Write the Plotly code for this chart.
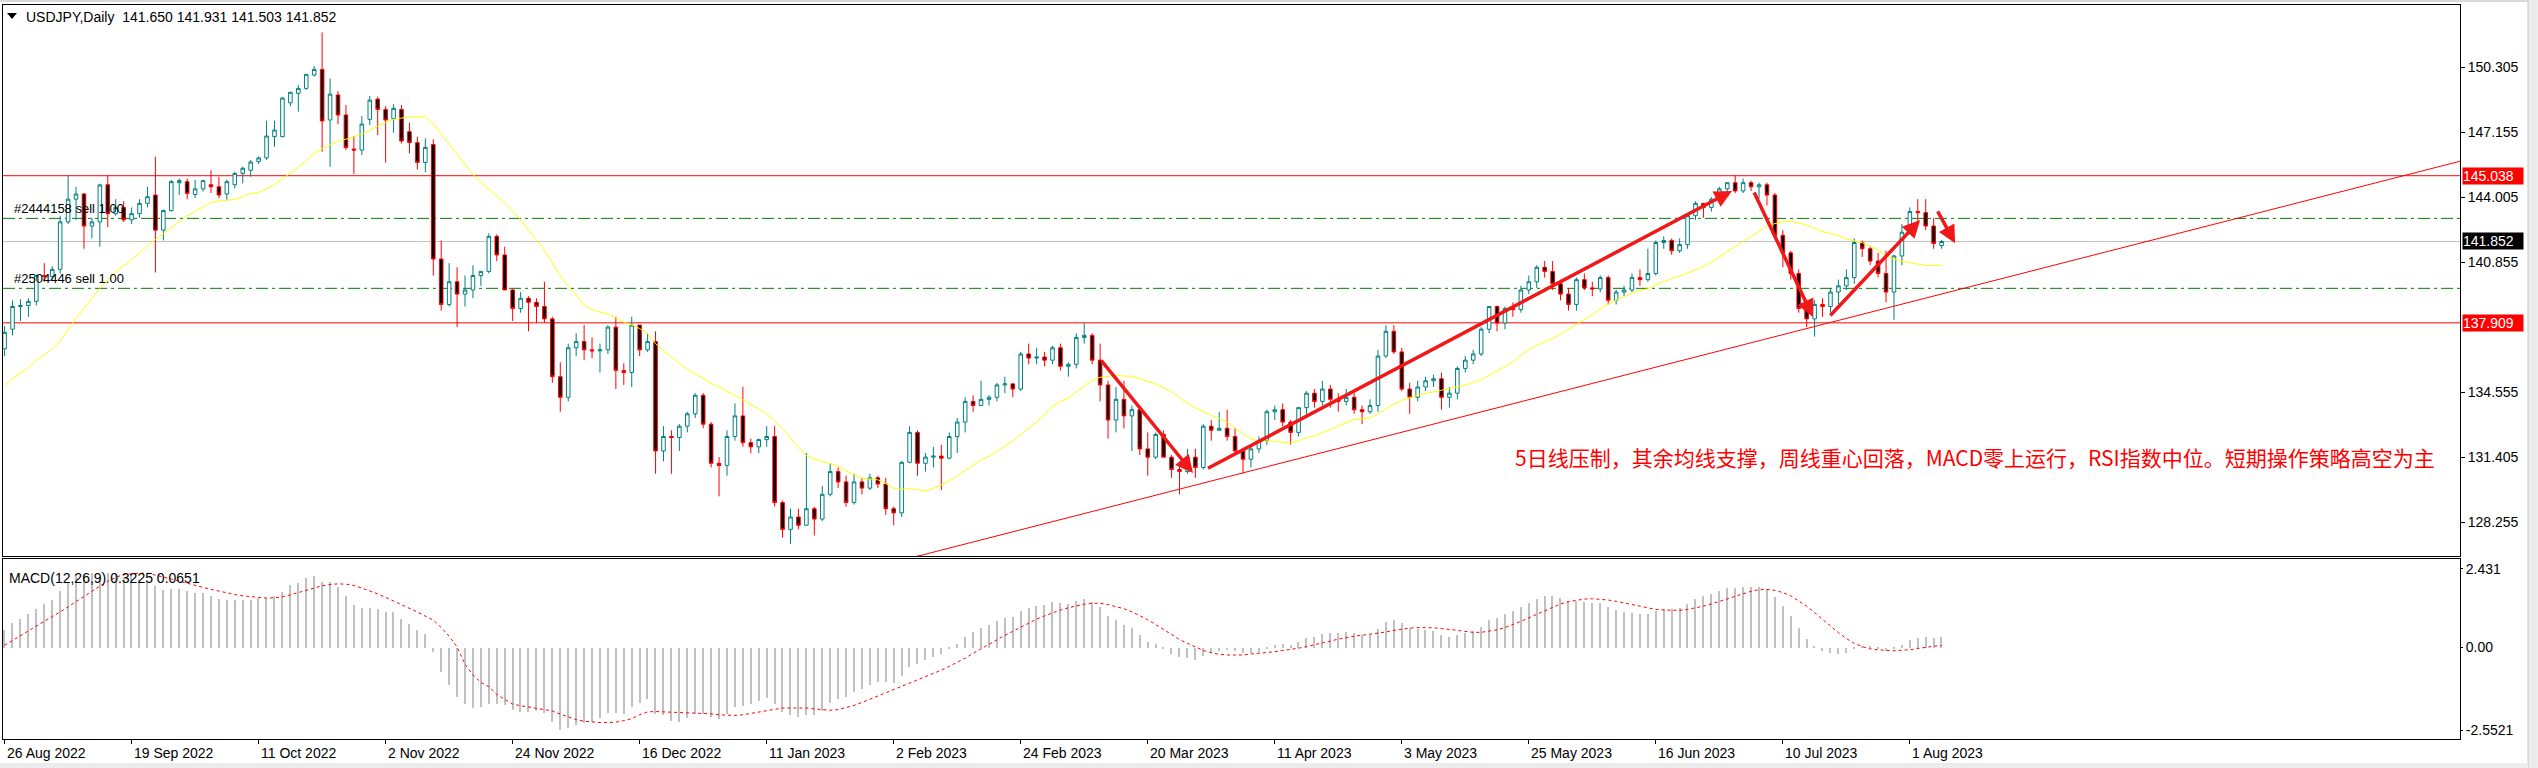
import plotly.graph_objects as go

# ---------------- data ----------------
tick_labels = ["26 Aug 2022", "19 Sep 2022", "11 Oct 2022", "2 Nov 2022", "24 Nov 2022",
               "16 Dec 2022", "11 Jan 2023", "2 Feb 2023", "24 Feb 2023", "20 Mar 2023",
               "11 Apr 2023", "3 May 2023", "25 May 2023", "16 Jun 2023", "10 Jul 2023",
               "1 Aug 2023"]
bars_per_label = 16

opens = [
    136.65, 137.60, 138.70, 138.75, 138.95, 140.20, 140.15, 140.50, 142.80, 143.90,
    144.15, 142.60, 142.80, 144.60, 143.20, 143.50, 142.90, 143.20, 143.70, 144.10,
    142.40, 143.35, 144.70, 144.75, 144.13, 144.40, 144.60, 144.50, 144.15, 144.60,
    145.15, 145.30, 145.72, 145.90, 146.93, 146.93, 148.57, 149.03, 149.27, 149.92,
    150.19, 147.74, 148.95, 147.98, 146.33, 146.28, 147.77, 148.75, 148.25, 147.80,
    148.25, 147.17, 146.64, 145.68, 146.55, 141.00, 138.80, 139.90, 139.30, 139.50,
    140.20, 140.40, 142.10, 141.20, 139.50, 138.60, 139.10, 138.90, 138.70, 138.10,
    135.30, 134.30, 136.70, 137.00, 136.60, 136.55, 136.60, 137.70, 135.60, 135.50,
    137.80, 136.60, 137.00, 131.70, 132.40, 132.35, 132.90, 133.50, 134.40, 133.00,
    131.10, 131.00, 132.40, 133.40, 132.10, 131.90, 132.25, 132.40, 129.20, 127.90,
    128.50, 128.10, 128.90, 128.40, 129.60, 130.70, 130.20, 129.20, 130.20, 129.90,
    130.40, 130.10, 128.90, 128.70, 131.15, 132.60, 131.10, 131.40, 131.45, 131.35,
    132.40, 133.10, 134.10, 133.90, 134.20, 134.30, 134.90, 134.95, 134.70, 136.40,
    136.20, 136.25, 136.10, 136.70, 135.80, 135.90, 137.20, 137.30, 136.10, 134.90,
    133.20, 134.20, 133.40, 133.70, 131.80, 131.40, 132.50, 131.40, 130.80, 130.70,
    131.40, 130.90, 132.90, 132.70, 132.80, 132.40, 131.70, 131.30, 131.80, 132.20,
    133.60, 133.70, 133.10, 132.60, 133.80, 134.50, 134.10, 134.70, 134.20, 134.10,
    134.30, 133.70, 133.60, 133.90, 136.30, 137.50, 136.50, 134.70, 134.30, 134.80,
    135.10, 135.20, 134.30, 134.50, 135.70, 136.10, 136.40, 137.60, 138.70, 137.90,
    138.60, 138.55, 139.50, 139.90, 140.60, 140.40, 139.80, 139.30, 138.80, 140.00,
    139.60, 139.55, 140.10, 139.00, 139.40, 139.50, 140.10, 140.00, 140.30, 141.80,
    141.90, 141.40, 141.70, 143.10, 143.70, 143.50, 143.90, 144.40, 144.70, 144.30,
    144.70, 144.50, 144.60, 144.10, 142.15, 141.30, 140.30, 138.60, 138.10, 138.80,
    138.70, 139.40, 139.70, 140.10, 141.80, 141.50, 140.90, 140.30, 139.40, 141.15,
    142.30, 143.30, 143.25, 142.60, 141.65,
]
highs = [
    137.75, 139.00, 139.05, 139.10, 140.25, 140.80, 140.65, 143.10, 145.07, 144.50,
    144.20, 143.00, 144.65, 145.07, 143.90, 143.80, 143.50, 143.90, 144.50, 145.96,
    143.40, 144.83, 144.90, 144.90, 144.83, 144.83, 145.30, 144.99, 144.86, 145.23,
    145.47, 145.80, 145.97, 147.70, 147.70, 148.86, 149.10, 149.43, 149.96, 150.35,
    151.98, 149.75, 149.14, 148.46, 146.96, 147.93, 148.90, 148.87, 148.41, 148.50,
    148.46, 147.60, 146.93, 146.85, 146.80, 141.90, 140.80, 140.60, 140.20, 140.70,
    140.40, 142.25, 142.20, 141.60, 139.55, 139.40, 139.20, 139.10, 139.90, 138.20,
    136.00, 136.90, 137.40, 137.80, 137.20, 136.90, 137.80, 138.20, 135.95, 138.20,
    137.80, 137.40, 137.50, 132.90, 132.70, 133.00, 133.60, 134.50, 134.50, 133.10,
    131.40, 132.70, 134.00, 134.80, 132.30, 132.30, 132.90, 132.90, 129.30, 128.90,
    128.90, 131.60, 129.00, 130.00, 131.10, 130.90, 130.50, 130.60, 130.40, 130.60,
    130.50, 130.40, 129.00, 131.20, 132.90, 132.70, 131.60, 131.90, 132.00, 132.60,
    133.30, 134.30, 134.40, 135.10, 134.40, 135.00, 135.30, 135.00, 136.50, 136.90,
    136.70, 136.50, 136.80, 136.90, 136.00, 137.40, 137.90, 137.40, 136.90, 135.10,
    134.80, 135.10, 133.90, 133.80, 132.60, 132.60, 132.70, 131.50, 131.00, 131.80,
    131.80, 133.00, 133.20, 133.60, 133.70, 132.80, 131.80, 132.00, 132.40, 133.70,
    133.90, 134.00, 133.20, 133.80, 134.60, 134.70, 135.10, 134.90, 134.50, 134.70,
    134.50, 133.90, 134.20, 136.60, 137.80, 137.80, 136.70, 135.00, 135.10, 135.30,
    135.40, 135.50, 134.80, 135.80, 136.30, 136.60, 137.70, 138.70, 138.75, 138.70,
    138.90, 139.70, 140.20, 140.70, 140.90, 140.90, 140.00, 139.60, 140.10, 140.30,
    139.90, 140.20, 140.20, 139.50, 139.70, 140.30, 140.50, 141.50, 141.90, 142.10,
    142.00, 142.00, 143.20, 143.80, 143.70, 144.00, 144.50, 144.70, 145.07, 144.90,
    144.80, 144.70, 144.70, 144.20, 142.40, 141.40, 140.50, 139.00, 139.00, 139.10,
    139.60, 140.00, 140.50, 142.00, 141.90, 141.60, 141.30, 141.40, 141.20, 142.70,
    143.50, 143.90, 143.90, 143.00, 141.93,
]
lows = [
    136.30, 137.30, 138.00, 138.20, 138.75, 139.90, 140.00, 140.30, 142.70, 142.90,
    141.50, 142.00, 141.60, 142.55, 143.10, 142.80, 142.70, 143.00, 143.50, 140.35,
    141.90, 143.30, 144.10, 143.90, 143.95, 144.27, 144.20, 143.95, 143.86, 144.43,
    144.67, 144.99, 145.60, 145.80, 146.44, 146.90, 148.40, 148.14, 149.20, 149.84,
    146.20, 145.47, 147.53, 146.28, 145.12, 146.04, 147.50, 147.01, 145.67, 147.12,
    146.60, 146.12, 145.34, 145.20, 140.20, 138.50, 138.70, 137.70, 138.70, 139.10,
    139.70, 140.30, 140.90, 139.50, 138.00, 138.40, 137.50, 137.90, 137.90, 135.00,
    133.60, 134.10, 136.30, 136.10, 136.20, 135.50, 136.40, 134.70, 134.90, 134.80,
    136.30, 136.50, 130.60, 131.20, 130.60, 131.70, 132.60, 133.30, 132.80, 130.90,
    129.50, 130.50, 132.20, 131.90, 131.60, 131.60, 131.90, 129.00, 127.50, 127.20,
    127.90, 128.10, 127.60, 128.30, 129.50, 129.90, 129.00, 129.10, 129.60, 129.80,
    129.90, 128.60, 128.10, 128.50, 131.10, 130.50, 130.70, 130.90, 129.80, 131.30,
    131.60, 132.60, 133.60, 133.90, 133.90, 134.10, 134.50, 134.30, 134.60, 135.90,
    135.90, 135.80, 135.90, 135.60, 135.30, 135.70, 136.90, 135.90, 134.10, 132.30,
    132.60, 132.80, 131.70, 131.50, 130.50, 131.30, 131.40, 130.40, 129.60, 130.60,
    130.40, 130.80, 132.20, 132.70, 132.20, 131.50, 130.60, 130.90, 131.60, 132.00,
    133.20, 132.90, 132.00, 132.40, 133.40, 133.80, 133.90, 133.80, 133.60, 133.90,
    133.50, 133.00, 133.50, 133.60, 136.20, 136.40, 134.60, 133.50, 134.10, 134.60,
    134.80, 133.70, 133.80, 134.20, 135.50, 135.90, 136.30, 137.40, 137.50, 137.60,
    138.20, 138.40, 139.30, 139.60, 140.10, 139.50, 139.00, 138.50, 138.50, 139.50,
    139.20, 139.40, 138.80, 138.80, 139.20, 139.40, 139.70, 139.90, 140.20, 141.50,
    141.20, 141.30, 141.50, 142.90, 143.00, 143.30, 143.80, 144.20, 144.20, 144.20,
    144.30, 143.90, 143.60, 142.10, 140.60, 140.00, 138.40, 137.70, 137.24, 138.20,
    138.40, 138.80, 139.50, 139.80, 141.10, 140.70, 140.10, 138.90, 138.05, 140.70,
    142.20, 142.70, 142.40, 141.50, 141.50,
]
closes = [
    137.45, 138.70, 138.75, 138.95, 140.20, 140.15, 140.50, 142.80, 143.90, 144.15,
    142.60, 142.80, 144.59, 143.20, 143.50, 142.90, 143.20, 143.70, 144.02, 142.40,
    143.35, 144.75, 144.80, 144.18, 144.40, 144.80, 144.50, 144.10, 144.75, 145.15,
    145.40, 145.70, 145.90, 146.96, 147.25, 148.80, 149.08, 149.27, 149.95, 150.19,
    147.69, 148.99, 147.98, 146.40, 146.28, 147.54, 148.70, 148.25, 147.74, 148.30,
    146.72, 146.64, 145.68, 146.41, 141.00, 138.80, 139.90, 139.30, 139.50, 140.20,
    140.40, 142.10, 141.20, 139.50, 138.60, 139.10, 138.90, 138.70, 138.10, 135.30,
    134.30, 136.70, 137.00, 136.60, 136.55, 136.60, 137.70, 135.60, 135.50, 137.80,
    136.60, 137.00, 131.70, 132.40, 132.35, 132.90, 133.50, 134.40, 133.00, 131.10,
    131.00, 132.40, 133.40, 132.10, 131.90, 132.25, 132.40, 129.20, 127.90, 128.50,
    128.10, 128.90, 128.40, 129.60, 130.70, 130.20, 129.20, 130.20, 129.90, 130.40,
    130.10, 128.90, 128.70, 131.15, 132.60, 131.10, 131.40, 131.45, 131.35, 132.40,
    133.10, 134.10, 133.90, 134.20, 134.30, 134.90, 134.95, 134.70, 136.40, 136.20,
    136.25, 136.10, 136.70, 135.80, 135.90, 137.20, 137.30, 136.10, 134.90, 133.20,
    134.20, 133.40, 133.70, 131.80, 131.40, 132.50, 131.40, 130.80, 130.70, 131.40,
    130.90, 132.90, 132.70, 132.80, 132.40, 131.70, 131.30, 131.80, 132.20, 133.60,
    133.70, 133.10, 132.60, 133.80, 134.50, 134.10, 134.70, 134.20, 134.10, 134.30,
    133.70, 133.60, 133.90, 136.30, 137.50, 136.50, 134.70, 134.30, 134.80, 135.10,
    135.20, 134.30, 134.50, 135.70, 136.10, 136.40, 137.60, 138.70, 137.90, 138.60,
    138.55, 139.50, 139.90, 140.60, 140.40, 139.80, 139.30, 138.80, 140.00, 139.60,
    139.55, 140.10, 139.00, 139.40, 139.50, 140.10, 140.00, 140.30, 141.80, 141.90,
    141.40, 141.70, 143.10, 143.70, 143.50, 143.90, 144.40, 144.70, 144.30, 144.70,
    144.50, 144.60, 144.10, 142.15, 141.30, 140.30, 138.60, 138.10, 138.80, 138.70,
    139.40, 139.70, 140.10, 141.80, 141.50, 140.90, 140.30, 139.40, 141.15, 142.30,
    143.30, 143.25, 142.60, 141.75, 141.85,
]
ma_values = [
    134.85, 135.21, 135.48, 135.74, 136.10, 136.36, 136.64, 137.03, 137.58, 138.14,
    138.60, 139.07, 139.59, 140.00, 140.38, 140.67, 140.96, 141.30, 141.65, 141.94,
    142.23, 142.53, 142.83, 143.10, 143.31, 143.53, 143.75, 143.81, 143.84, 143.89,
    144.03, 144.17, 144.23, 144.41, 144.59, 144.88, 145.17, 145.45, 145.74, 146.13,
    146.34, 146.55, 146.71, 146.82, 146.91, 147.06, 147.25, 147.46, 147.62, 147.77,
    147.84, 147.89, 147.89, 147.87, 147.56, 147.06, 146.61, 146.11, 145.59, 145.09,
    144.73, 144.39, 144.06, 143.71, 143.33, 142.90, 142.41, 141.94, 141.45, 140.81,
    140.19, 139.69, 139.26, 138.77, 138.55, 138.44, 138.33, 138.14, 137.94, 137.82,
    137.63, 137.38, 136.90, 136.55, 136.24, 135.93, 135.66, 135.44, 135.19, 134.98,
    134.81, 134.60, 134.42, 134.19, 133.96, 133.74, 133.48, 133.16, 132.78, 132.31,
    131.89, 131.48, 131.32, 131.18, 131.09, 130.96, 130.74, 130.53, 130.38, 130.34,
    130.30, 130.12, 129.89, 129.84, 129.88, 129.82, 129.77, 129.88, 130.05, 130.25,
    130.50, 130.76, 131.03, 131.26, 131.44, 131.68, 131.96, 132.19, 132.51, 132.80,
    133.11, 133.47, 133.87, 134.10, 134.26, 134.57, 134.86, 135.10, 135.27, 135.31,
    135.37, 135.33, 135.32, 135.20, 135.06, 134.94, 134.76, 134.57, 134.28, 134.04,
    133.78, 133.62, 133.42, 133.27, 133.09, 132.82, 132.52, 132.30, 132.17, 132.19,
    132.16, 132.15, 132.09, 132.19, 132.35, 132.43, 132.59, 132.76, 132.93, 133.08,
    133.22, 133.25, 133.31, 133.49, 133.74, 133.98, 134.15, 134.28, 134.41, 134.48,
    134.56, 134.62, 134.71, 134.81, 134.89, 135.00, 135.14, 135.37, 135.56, 135.78,
    136.02, 136.32, 136.62, 136.83, 136.98, 137.14, 137.37, 137.60, 137.86, 138.08,
    138.30, 138.59, 138.82, 139.00, 139.17, 139.36, 139.48, 139.56, 139.75, 139.92,
    140.06, 140.17, 140.33, 140.48, 140.64, 140.84, 141.10, 141.39, 141.61, 141.86,
    142.11, 142.33, 142.59, 142.72, 142.81, 142.82, 142.75, 142.64, 142.49, 142.33,
    142.23, 142.13, 141.98, 141.89, 141.79, 141.64, 141.43, 141.17, 141.01, 140.89,
    140.83, 140.77, 140.69, 140.68, 140.71,
]
macd_main = [
    0.55, 0.76, 0.89, 1.03, 1.20, 1.35, 1.48, 1.76, 2.04, 2.28,
    2.28, 2.30, 2.19, 2.30, 2.26, 2.19, 2.26, 2.09, 2.07, 1.89,
    1.79, 1.80, 1.80, 1.74, 1.70, 1.68, 1.61, 1.51, 1.46, 1.46,
    1.46, 1.46, 1.53, 1.53, 1.61, 1.73, 1.92, 2.00, 2.14, 2.22,
    2.04, 2.02, 1.87, 1.58, 1.32, 1.23, 1.23, 1.20, 1.10, 1.10,
    0.89, 0.74, 0.53, 0.41, -0.13, -0.75, -1.16, -1.52, -1.74, -1.88,
    -1.85, -1.74, -1.74, -1.77, -1.93, -1.98, -1.98, -1.96, -2.03, -2.29,
    -2.54, -2.49, -2.41, -2.34, -2.29, -2.18, -2.03, -2.03, -2.05, -1.83,
    -1.70, -1.59, -2.05, -2.08, -2.27, -2.29, -2.18, -2.05, -2.05, -2.15,
    -2.20, -2.05, -1.85, -1.80, -1.75, -1.65, -1.55, -1.75, -1.98, -2.08,
    -2.15, -2.10, -2.10, -1.95, -1.72, -1.58, -1.52, -1.38, -1.28, -1.15,
    -1.06, -1.08, -1.10, -0.88, -0.60, -0.50, -0.38, -0.28, -0.20, -0.05,
    0.12, 0.33, 0.47, 0.60, 0.70, 0.82, 0.90, 0.95, 1.12, 1.22,
    1.30, 1.33, 1.40, 1.38, 1.36, 1.45, 1.50, 1.42, 1.25, 0.98,
    0.85, 0.70, 0.60, 0.38, 0.18, 0.10, -0.05, -0.20, -0.30, -0.33,
    -0.38, -0.25, -0.16, -0.10, -0.08, -0.12, -0.18, -0.18, -0.15, -0.03,
    0.08, 0.10, 0.08, 0.16, 0.28, 0.34, 0.42, 0.45, 0.46, 0.48,
    0.44, 0.40, 0.39, 0.56, 0.78, 0.85, 0.75, 0.62, 0.56, 0.53,
    0.50, 0.40, 0.34, 0.38, 0.44, 0.50, 0.64, 0.84, 0.92, 1.04,
    1.12, 1.25, 1.37, 1.50, 1.58, 1.58, 1.53, 1.44, 1.45, 1.42,
    1.38, 1.37, 1.25, 1.17, 1.10, 1.08, 1.04, 1.03, 1.12, 1.20,
    1.20, 1.22, 1.36, 1.50, 1.58, 1.66, 1.75, 1.84, 1.85, 1.88,
    1.87, 1.86, 1.80, 1.55, 1.28, 0.98, 0.60, 0.26, 0.05, -0.12,
    -0.18, -0.20, -0.18, -0.05, 0.02, 0.03, -0.02, -0.12, -0.05, 0.07,
    0.22, 0.31, 0.32, 0.30, 0.3225,
]
macd_signal = [
    0.07, 0.22, 0.38, 0.53, 0.67, 0.81, 0.96, 1.10, 1.25, 1.42,
    1.58, 1.75, 1.90, 2.05, 2.17, 2.26, 2.29, 2.30, 2.30, 2.25,
    2.18, 2.12, 2.05, 1.98, 1.92, 1.86, 1.80, 1.74, 1.68, 1.64,
    1.60, 1.57, 1.54, 1.53, 1.54, 1.57, 1.63, 1.70, 1.77, 1.85,
    1.91, 1.95, 1.97, 1.96, 1.92, 1.84, 1.76, 1.66, 1.55, 1.44,
    1.33, 1.22, 1.10, 0.97, 0.85, 0.62, 0.35, 0.02, -0.52, -0.85,
    -1.08, -1.21, -1.45, -1.60, -1.75, -1.80, -1.84, -1.87, -1.90, -1.96,
    -2.06, -2.15, -2.23, -2.28, -2.31, -2.32, -2.32, -2.31, -2.26, -2.20,
    -2.08, -1.99, -1.98, -1.99, -2.00, -2.01, -2.03,
    -2.03, -2.03, -2.05, -2.08, -2.10, -2.10, -2.08, -2.04, -2.00, -1.95,
    -1.90, -1.87, -1.87, -1.87, -1.87, -1.90, -1.93, -1.94, -1.92, -1.86,
    -1.79, -1.70, -1.60, -1.50, -1.40, -1.32, -1.22, -1.12, -1.02, -0.90,
    -0.80, -0.70, -0.58, -0.46, -0.33, -0.18, -0.04, 0.10, 0.25, 0.38,
    0.50, 0.63, 0.76, 0.88, 0.98, 1.08, 1.16, 1.23, 1.29, 1.34,
    1.37, 1.37, 1.33, 1.27, 1.20, 1.11, 0.99, 0.86, 0.71, 0.55,
    0.39, 0.25, 0.13, 0.01, -0.09, -0.16, -0.21, -0.23, -0.24, -0.23,
    -0.20, -0.18, -0.16, -0.13, -0.09, -0.06, -0.02, 0.03, 0.08, 0.14,
    0.20, 0.26, 0.31, 0.35, 0.38, 0.41, 0.44, 0.48, 0.53, 0.57,
    0.60, 0.62, 0.62, 0.61, 0.59, 0.56, 0.52, 0.49, 0.47, 0.47,
    0.50, 0.55, 0.62, 0.71, 0.81, 0.92, 1.03, 1.15, 1.26, 1.35,
    1.42, 1.47, 1.50, 1.51, 1.50, 1.47, 1.43, 1.38, 1.32, 1.26,
    1.21, 1.18, 1.16, 1.15, 1.15, 1.18, 1.22, 1.28, 1.35, 1.43,
    1.52, 1.60, 1.67, 1.74, 1.79, 1.80, 1.77, 1.70, 1.60, 1.45,
    1.28, 1.08, 0.87, 0.66, 0.46, 0.28, 0.13, 0.03, -0.04, -0.07,
    -0.09, -0.10, -0.08, -0.07, -0.03, 0.01, 0.04, 0.0651,
]

red_levels = [145.038, 137.909]
bid_price = 141.852
order_levels = [142.97, 139.58]
order_labels = ["#2444158 sell 1.00", "#2504446 sell 1.00"]
trend_points = [(148, 129.85), (228, 137.73)]
arrow_moves = [  # (tail bar, tail price, head bar, head price)
    (138.0, 136.15, 149.7, 130.63),
    (151.4, 130.82, 217.6, 144.30),
    (220.3, 144.30, 227.8, 138.19),
    (229.8, 138.19, 241.3, 142.89),
    (243.4, 143.38, 245.7, 141.77),
]
price_ticks = [150.305, 147.155, 144.005, 140.855, 134.555, 131.405, 128.255]
macd_ticks = [2.431, 0.0, -2.5521]
macd_tick_text = ["2.431", "0.00", "-2.5521"]
header_text = "USDJPY,Daily  141.650 141.931 141.503 141.852"
macd_title = "MACD(12,26,9) 0.3225 0.0651"
note_text = "5日线压制，其余均线支撑，周线重心回落，MACD零上运行，RSI指数中位。短期操作策略高空为主"

# ---------------- layout geometry (pixels) ----------------
W, H = 2538, 768
ML, MR, MT, MB = 3, 78, 5, 29
PW = W - ML - MR
PH = H - MT - MB
X_RANGE = [-0.2, 309.3]
PRICE_RANGE = [126.61, 153.31]
MACD_RANGE = [-2.829, 2.739]


def fx(px):
    return (px - ML) / PW


def fy(py):
    return (H - MB - py) / PH


FONT = "Liberation Sans, Arial, sans-serif"
n = len(closes)
xs = list(range(n))

fig = go.Figure()

fig.add_trace(go.Candlestick(
    x=xs, open=opens, high=highs, low=lows, close=closes,
    xaxis="x", yaxis="y",
    increasing=dict(line=dict(color="#008080", width=1), fillcolor="#ffffff"),
    decreasing=dict(line=dict(color="#ff0000", width=1), fillcolor="#000000"),
    whiskerwidth=0, hoverinfo="skip", showlegend=False,
))
fig.add_trace(go.Scatter(
    x=xs, y=ma_values, mode="lines", xaxis="x", yaxis="y",
    line=dict(color="#ffff00", width=1), hoverinfo="skip", showlegend=False,
))
fig.add_trace(go.Bar(
    x=xs, y=macd_main, xaxis="x2", yaxis="y2", width=0.16,
    marker=dict(color="#c0c0c0", line=dict(width=0)), hoverinfo="skip", showlegend=False,
))
fig.add_trace(go.Scatter(
    x=xs, y=macd_signal, mode="lines", xaxis="x2", yaxis="y2",
    line=dict(color="#ff0000", width=1, dash="dot"), hoverinfo="skip", showlegend=False,
))

shapes = []
for lv in red_levels:
    shapes.append(dict(type="line", xref="x domain", yref="y", x0=0, x1=1, y0=lv, y1=lv,
                       line=dict(color="#ff0000", width=1), layer="below"))
shapes.append(dict(type="line", xref="x domain", yref="y", x0=0, x1=1, y0=bid_price, y1=bid_price,
                   line=dict(color="#c0c0c0", width=1), layer="below"))
for lv in order_levels:
    shapes.append(dict(type="line", xref="x domain", yref="y", x0=0, x1=1, y0=lv, y1=lv,
                       line=dict(color="#008000", width=1, dash="12px,4px,3px,4px"), layer="below"))

(tx1, ty1), (tx2, ty2) = trend_points
slope = (ty2 - ty1) / (tx2 - tx1)
tx_start, tx_end = 90, X_RANGE[1] + 5
shapes.append(dict(type="line", xref="x", yref="y",
                   x0=tx_start, y0=ty1 + slope * (tx_start - tx1),
                   x1=tx_end, y1=ty1 + slope * (tx_end - tx1),
                   line=dict(color="#ff0000", width=1)))

# header triangle
shapes.append(dict(type="path", xref="paper", yref="paper",
                   path=f"M {fx(7)} {fy(13)} L {fx(17)} {fy(13)} L {fx(12)} {fy(19)} Z",
                   fillcolor="#000000", line=dict(width=0)))
# window chrome (right strip, top & bottom bands)
shapes.append(dict(type="rect", xref="paper", yref="paper", x0=fx(2528), x1=fx(2540),
                   y0=fy(770), y1=fy(-2), fillcolor="#ececec", line=dict(color="#c8c8c8", width=1)))
shapes.append(dict(type="rect", xref="paper", yref="paper", x0=fx(-2), x1=fx(2528),
                   y0=fy(2), y1=fy(-2), fillcolor="#d8d8d8", line=dict(width=0)))
shapes.append(dict(type="rect", xref="paper", yref="paper", x0=fx(-2), x1=fx(2528),
                   y0=fy(770), y1=fy(763), fillcolor="#ececec", line=dict(width=0)))

annotations = []
annotations.append(dict(text=header_text, xref="paper", yref="paper", x=fx(24), y=fy(17),
                        xanchor="left", yanchor="middle", showarrow=False,
                        font=dict(family=FONT, size=14, color="#000000")))
annotations.append(dict(text=macd_title, xref="paper", yref="paper", x=fx(7), y=fy(578),
                        xanchor="left", yanchor="middle", showarrow=False,
                        font=dict(family=FONT, size=14, color="#000000")))
for lv, lab in zip(order_levels, order_labels):
    annotations.append(dict(text=lab, xref="paper", yref="y", x=fx(12), y=lv,
                            xanchor="left", yanchor="bottom", yshift=0, showarrow=False,
                            font=dict(family=FONT, size=13, color="#000000")))
annotations.append(dict(text=note_text, xref="paper", yref="paper", x=fx(1513), y=fy(457),
                        xanchor="left", yanchor="middle", showarrow=False,
                        font=dict(family="Noto Sans CJK SC", size=21, color="#ff0000")))
for i, lab in enumerate(tick_labels):
    annotations.append(dict(text=lab, xref="x2", yref="paper", x=i * bars_per_label, y=0,
                            xanchor="left", yanchor="top", xshift=0, yshift=-4, showarrow=False,
                            font=dict(family=FONT, size=14, color="#000000")))
for lv, bg in [(red_levels[0], "#ff0000"), (bid_price, "#000000"), (red_levels[1], "#ff0000")]:
    annotations.append(dict(text=f"{lv:.3f}", xref="paper", yref="y", x=1, y=lv,
                            xanchor="left", yanchor="middle", xshift=2, showarrow=False,
                            bgcolor=bg, borderpad=0, width=60, height=16, align="left",
                            font=dict(family=FONT, size=14, color="#ffffff")))
for (ax_, ay_, hx, hy) in arrow_moves:
    annotations.append(dict(text="", xref="x", yref="y", axref="x", ayref="y",
                            x=hx, y=hy, ax=ax_, ay=ay_, showarrow=True,
                            arrowhead=2, arrowsize=1.0, arrowwidth=3.5,
                            arrowcolor="#f01818", standoff=0, startstandoff=0))

axis_common = dict(showgrid=False, zeroline=False, showline=True, mirror=True,
                   linecolor="#000000", linewidth=1)

fig.update_layout(
    width=W, height=H,
    margin=dict(l=ML, r=MR, t=MT, b=MB, pad=0),
    paper_bgcolor="#ffffff", plot_bgcolor="#ffffff",
    showlegend=False, hovermode=False, boxgap=0.36, bargap=0,
    xaxis=dict(domain=[0, 1], anchor="y", range=X_RANGE, matches="x2",
               showticklabels=False, ticks="", rangeslider=dict(visible=False), **axis_common),
    xaxis2=dict(domain=[0, 1], anchor="y2", range=X_RANGE,
                tickvals=[i * bars_per_label for i in range(len(tick_labels))],
                showticklabels=False, ticks="outside", ticklen=4, tickcolor="#000000",
                **axis_common),
    yaxis=dict(domain=[fy(556), 1], anchor="x", side="right", range=PRICE_RANGE,
               tickvals=price_ticks, ticktext=[f"{v:.3f}" for v in price_ticks],
               ticks="outside", ticklen=4, tickcolor="#000000",
               tickfont=dict(family=FONT, size=14, color="#000000"), **axis_common),
    yaxis2=dict(domain=[0, fy(559)], anchor="x2", side="right", range=MACD_RANGE,
                tickvals=macd_ticks, ticktext=macd_tick_text,
                ticks="outside", ticklen=2, tickcolor="#000000",
                tickfont=dict(family=FONT, size=14, color="#000000"), **axis_common),
    shapes=shapes,
    annotations=annotations,
)

fig.write_html("out.html", config={"displayModeBar": False},
               post_script="document.body.style.margin='0px';document.body.style.overflow='hidden';")
